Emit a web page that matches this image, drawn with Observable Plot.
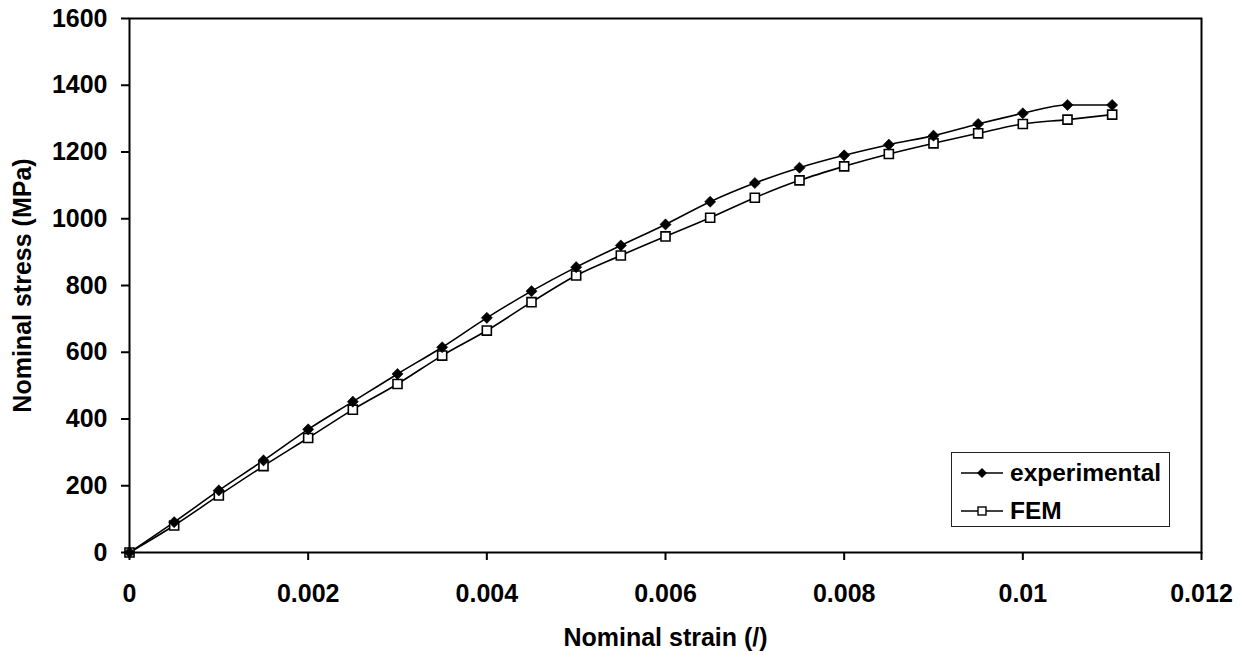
<!DOCTYPE html>
<html>
<head>
<meta charset="utf-8">
<script src="https://cdn.jsdelivr.net/npm/d3@7"></script>
<script src="https://cdn.jsdelivr.net/npm/@observablehq/plot@0.6"></script>
<style>
  html, body { margin: 0; padding: 0; background: white; }
  #wrap { position: relative; width: 1242px; height: 655px; font-family: "Liberation Sans", Arial, sans-serif; font-weight: bold; }
  #legend { position: absolute; left: 951px; top: 452px; width: 219px; height: 75px; box-sizing: border-box; border: 1.5px solid #222; background: white; }
  .row { position: absolute; left: 9px; height: 28px; display: flex; align-items: center; font-size: 24.5px; line-height: 28px; color: black; }
  .row svg { margin-right: 7px; }
</style>
</head>
<body>
<div id="wrap"></div>
<script>
const strain = [0, 0.0005, 0.001, 0.0015, 0.002, 0.0025, 0.003, 0.0035, 0.004, 0.0045, 0.005, 0.0055, 0.006, 0.0065, 0.007, 0.0075, 0.008, 0.0085, 0.009, 0.0095, 0.01, 0.0105, 0.011];
const experimental = [0, 91, 186, 276, 369, 452, 535, 615, 703, 783, 855, 920, 983, 1051, 1107, 1153, 1190, 1222, 1249, 1284, 1316, 1341, 1341];
const fem = [0, 81, 171, 259, 343, 428, 505, 590, 665, 750, 830, 890, 947, 1003, 1063, 1115, 1157, 1194, 1226, 1256, 1284, 1297, 1312];
const xTicks = [0, 0.002, 0.004, 0.006, 0.008, 0.01, 0.012];
const xTickLabels = ["0", "0.002", "0.004", "0.006", "0.008", "0.01", "0.012"];
const yTicks = [0, 200, 400, 600, 800, 1000, 1200, 1400, 1600];
const yTickLabels = ["0", "200", "400", "600", "800", "1000", "1200", "1400", "1600"];
const seriesNames = ["experimental", "FEM"];

const expData = strain.map((x, i) => ({x, y: experimental[i]}));
const femData = strain.map((x, i) => ({x, y: fem[i]}));

const chart = Plot.plot({
  width: 1242,
  height: 655,
  marginLeft: 129,
  marginRight: 41,
  marginTop: 18,
  marginBottom: 103,
  style: {fontFamily: "'Liberation Sans', Arial, sans-serif", fontSize: "25px", fontWeight: "bold", color: "black", background: "white"},
  x: {domain: [0, 0.012]},
  y: {domain: [0, 1600]},
  marks: [
    Plot.frame({stroke: "black", strokeWidth: 2}),
    Plot.axisX({ticks: xTicks, tickFormat: d => xTickLabels[xTicks.indexOf(d)], tickSize: 8, tickPadding: 24, strokeWidth: 2,
      label: "Nominal strain (/)", labelAnchor: "center", labelArrow: "none", labelOffset: 93, fontSize: 25}),
    Plot.axisY({ticks: yTicks, tickFormat: d => yTickLabels[yTicks.indexOf(d)], tickSize: 8, tickPadding: 14, strokeWidth: 2,
      label: "Nominal stress (MPa)", labelAnchor: "center", labelArrow: "none", labelOffset: 116, fontSize: 25}),
    Plot.line(femData, {x: "x", y: "y", curve: "monotone-x", stroke: "black", strokeWidth: 1.6}),
    Plot.line(expData, {x: "x", y: "y", curve: "monotone-x", stroke: "black", strokeWidth: 1.6}),
    Plot.dot(femData, {x: "x", y: "y", symbol: "square", r: 5.1, fill: "white", stroke: "black", strokeWidth: 1.6}),
    Plot.dot(expData, {x: "x", y: "y", symbol: "diamond2", r: 5, fill: "black", stroke: "black", strokeWidth: 0.6})
  ]
});

const wrap = document.getElementById("wrap");
wrap.appendChild(chart);

const legend = document.createElement("div");
legend.id = "legend";
legend.innerHTML = `
  <div class="row" style="top:6px"><svg width="42" height="14"><line x1="0" x2="42" y1="7" y2="7" stroke="black" stroke-width="1.6"/><polygon points="21,2 26,7 21,12 16,7" fill="black"/></svg>${seriesNames[0]}</div>
  <div class="row" style="top:44px"><svg width="42" height="14"><line x1="0" x2="42" y1="7" y2="7" stroke="black" stroke-width="1.6"/><rect x="17" y="3" width="8" height="8" fill="white" stroke="black" stroke-width="1.4"/></svg>${seriesNames[1]}</div>`;
wrap.appendChild(legend);
</script>
</body>
</html>
